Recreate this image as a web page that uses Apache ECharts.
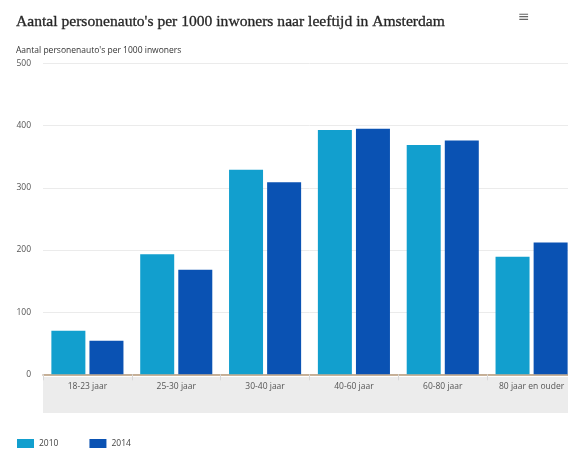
<!DOCTYPE html>
<html>
<head>
<meta charset="utf-8">
<script src="https://cdn.jsdelivr.net/npm/echarts@6/dist/echarts.min.js"></script>
<style>
html,body{margin:0;padding:0;background:#fff;overflow:hidden;}
#c{width:576px;height:450px;}
</style>
</head>
<body>
<div id="c"></div>
<script>
var categories = ['18-23 jaar', '25-30 jaar', '30-40 jaar', '40-60 jaar', '60-80 jaar', '80 jaar en ouder'];
var values2010 = [70, 193, 329, 393, 369, 189];
var values2014 = [54, 168, 309, 395, 376, 212];
var yTicks = [0, 100, 200, 300, 400, 500];

var chart = echarts.init(document.getElementById('c'), null, {renderer: 'canvas'});
chart.setOption({
  animation: false,
  backgroundColor: '#ffffff',
  title: [
    {
      text: "Aantal personenauto's per 1000 inwoners naar leeftijd in Amsterdam",
      left: 11, top: 9,
      textStyle: {fontFamily: 'Liberation Serif', fontSize: 15.6, fontWeight: 'normal', color: '#262626', textBorderColor: '#262626', textBorderWidth: 0.3}
    },
    {
      text: "Aantal personenauto's per 1000 inwoners",
      left: 11, top: 41,
      textStyle: {fontFamily: 'Open Sans', fontSize: 8.5, fontWeight: 'normal', color: '#333'}
    }
  ],
  graphic: [
    {type: 'rect', left: 43, top: 377, shape: {width: 533, height: 36}, style: {fill: '#ececec'}, z: -10},
    {type: 'text', left: 518, top: 10, style: {text: '≡', fontSize: 14, fill: '#666', fontFamily: 'DejaVu Sans'}}
  ],
  legend: {
    left: 17, top: 439, padding: 0,
    itemWidth: 17, itemHeight: 9, itemGap: 31,
    icon: 'rect',
    textStyle: {fontFamily: 'Open Sans', fontSize: 8.5, color: '#444'},
    data: ['2010', '2014']
  },
  grid: {left: 43, right: 0, top: 63.5, bottom: 75.7, containLabel: false},
  xAxis: {
    type: 'category',
    data: categories,
    axisLine: {show: true, lineStyle: {color: '#b89a7a', width: 1.5}},
    axisTick: {show: true, alignWithLabel: false, length: 6, lineStyle: {color: '#d8d8d8'}},
    axisLabel: {fontFamily: 'Open Sans', fontSize: 8.5, color: '#555', margin: 8, interval: 0}
  },
  yAxis: {
    type: 'value',
    min: yTicks[0], max: yTicks[yTicks.length - 1], interval: 100,
    axisLine: {show: false},
    axisTick: {show: false},
    axisLabel: {fontFamily: 'Open Sans', fontSize: 8.5, color: '#555', margin: 12},
    splitLine: {lineStyle: {color: '#ebebeb'}}
  },
  series: [
    {name: '2010', type: 'bar', data: values2010, barWidth: 34, barGap: '12%', itemStyle: {color: '#129fce'}},
    {name: '2014', type: 'bar', data: values2014, barWidth: 34, itemStyle: {color: '#0a52b3'}}
  ]
});
</script>
</body>
</html>
